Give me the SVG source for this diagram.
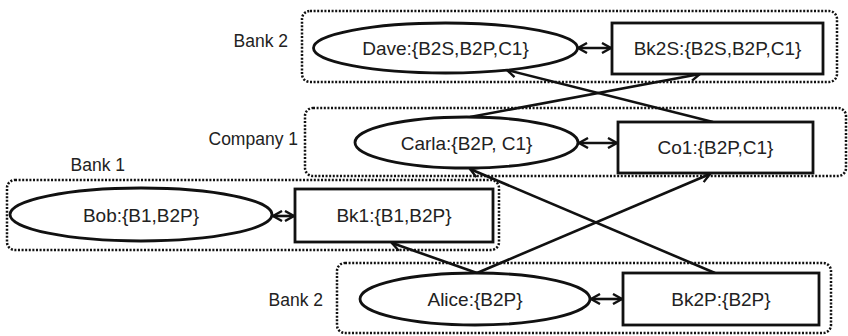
<svg xmlns="http://www.w3.org/2000/svg" width="848" height="336" viewBox="0 0 848 336">
  <style>
    .grp { fill: none; stroke: #111; stroke-width: 2.5; stroke-dasharray: 2 1.6; }
    .shape { fill: #fff; stroke: #111; stroke-width: 2.8; }
    .lbl { font-family: "Liberation Sans", Arial, sans-serif; font-size: 19px; fill: #222; text-anchor: middle; }
    .glbl { font-family: "Liberation Sans", Arial, sans-serif; font-size: 17.5px; fill: #222; text-anchor: end; }
    .edge { fill: none; stroke: #111; stroke-width: 2.6; }
  </style>
  <defs>
    <marker id="head" viewBox="0 0 12 12" refX="10" refY="6" markerWidth="12" markerHeight="12" markerUnits="userSpaceOnUse" orient="auto-start-reverse">
      <path d="M1,1 L10,6 L1,11" fill="none" stroke="#111" stroke-width="2.4"/>
    </marker>
  </defs>

  <!-- organisation boundaries -->
  <g id="group-bank2-top">
    <rect class="grp" x="302" y="11" width="535" height="71" rx="8"/>
    <text class="glbl" x="288" y="47">Bank 2</text>
  </g>
  <g id="group-company1">
    <rect class="grp" x="305" y="108" width="541" height="68" rx="8"/>
    <text class="glbl" x="298" y="145">Company 1</text>
  </g>
  <g id="group-bank1">
    <rect class="grp" x="7" y="180" width="492" height="70" rx="8"/>
    <text class="glbl" x="125" y="171">Bank 1</text>
  </g>
  <g id="group-bank2-bottom">
    <rect class="grp" x="337" y="263" width="494" height="70" rx="8"/>
    <text class="glbl" x="323" y="306">Bank 2</text>
  </g>

  <!-- connectors -->
  <g id="connectors">
    <line class="edge" x1="578" y1="48" x2="611" y2="48" marker-start="url(#head)" marker-end="url(#head)"/>
    <line class="edge" x1="579" y1="143" x2="617" y2="143" marker-start="url(#head)" marker-end="url(#head)"/>
    <line class="edge" x1="273" y1="216" x2="294" y2="216" marker-start="url(#head)" marker-end="url(#head)"/>
    <line class="edge" x1="591" y1="299" x2="622" y2="299" marker-start="url(#head)" marker-end="url(#head)"/>
    <line class="edge" x1="470" y1="117" x2="700" y2="74" marker-end="url(#head)"/>
    <line class="edge" x1="713" y1="122" x2="507" y2="70" marker-end="url(#head)"/>
    <line class="edge" x1="477" y1="273" x2="392" y2="243" marker-end="url(#head)"/>
    <line class="edge" x1="477" y1="273" x2="710" y2="174" marker-end="url(#head)"/>
    <line class="edge" x1="715" y1="273" x2="470" y2="169" marker-end="url(#head)"/>
  </g>

  <!-- nodes -->
  <g id="dave">
    <ellipse class="shape" cx="445.5" cy="48" rx="132" ry="25"/>
    <text class="lbl" x="445.5" y="55">Dave:{B2S,B2P,C1}</text>
  </g>
  <g id="bk2s">
    <rect class="shape" x="612" y="23" width="211" height="51"/>
    <text class="lbl" x="717.5" y="55">Bk2S:{B2S,B2P,C1}</text>
  </g>
  <g id="carla">
    <ellipse class="shape" cx="466.5" cy="142.5" rx="111.5" ry="25.5"/>
    <text class="lbl" x="466.5" y="149.5">Carla:{B2P, C1}</text>
  </g>
  <g id="co1">
    <rect class="shape" x="618" y="122" width="195" height="51"/>
    <text class="lbl" x="715.5" y="154">Co1:{B2P,C1}</text>
  </g>
  <g id="bob">
    <ellipse class="shape" cx="141" cy="214.5" rx="131" ry="26.5"/>
    <text class="lbl" x="141" y="222">Bob:{B1,B2P}</text>
  </g>
  <g id="bk1">
    <rect class="shape" x="295" y="189" width="198" height="53"/>
    <text class="lbl" x="394" y="222">Bk1:{B1,B2P}</text>
  </g>
  <g id="alice">
    <ellipse class="shape" cx="475" cy="299" rx="115" ry="26"/>
    <text class="lbl" x="475" y="306">Alice:{B2P}</text>
  </g>
  <g id="bk2p">
    <rect class="shape" x="623" y="273" width="196" height="52"/>
    <text class="lbl" x="721" y="306">Bk2P:{B2P}</text>
  </g>
</svg>
